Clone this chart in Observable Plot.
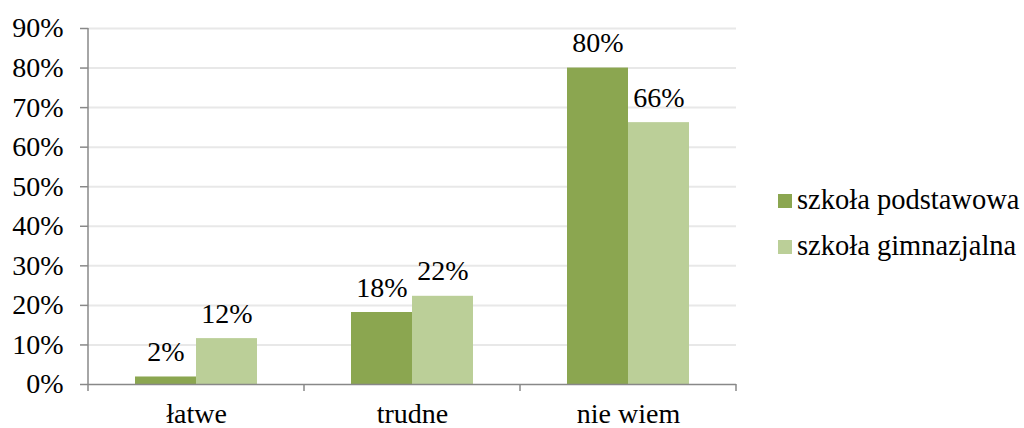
<!DOCTYPE html>
<html><head><meta charset="utf-8">
<script src="https://cdn.jsdelivr.net/npm/d3@7"></script>
<script src="https://cdn.jsdelivr.net/npm/@observablehq/plot@0.6"></script>
<style>
body{margin:0;background:#fff;font-family:"Liberation Serif",serif;}
#wrap{position:relative;width:1024px;height:428px;overflow:hidden;}
.item{position:absolute;left:778px;height:40px;display:flex;align-items:center;font-size:28.5px;color:#000;white-space:nowrap;}
.sw{width:14px;height:14px;margin-right:5px;margin-top:2px;}
</style></head><body><div id="wrap"></div>
<script>
const categories = ["łatwe", "trudne", "nie wiem"];
const series = ["szkoła podstawowa", "szkoła gimnazjalna"];
const podstawowa = [1.9, 18.2, 80.0];
const gimnazjalna = [11.6, 22.3, 66.2];
const podstawowaLabels = ["2%", "18%", "80%"];
const gimnazjalnaLabels = ["12%", "22%", "66%"];
const colors = ["#8ba650", "#bbcf98"];
const yTicks = [0, 10, 20, 30, 40, 50, 60, 70, 80, 90];

const data = [];
categories.forEach((c, i) => {
  data.push({category: c, series: series[0], value: podstawowa[i], label: podstawowaLabels[i]});
  data.push({category: c, series: series[1], value: gimnazjalna[i], label: gimnazjalnaLabels[i]});
});

const chart = Plot.plot({
  width: 1024, height: 428,
  marginLeft: 87, marginRight: 288, marginTop: 28, marginBottom: 44,
  style: {fontFamily: "'Liberation Serif', serif", fontSize: "28px", color: "#000", background: "#fff"},
  fx: {domain: categories, padding: 0, label: null, axis: null},
  x: {domain: series, paddingInner: 0, paddingOuter: 0.742, axis: null},
  y: {domain: [0, 90], axis: null, label: null},
  color: {domain: series, range: colors},
  marks: [
    Plot.gridY(yTicks.slice(1), {stroke: "#e8e8e8", strokeOpacity: 1, strokeWidth: 2}),
    Plot.barY(data, {fx: "category", x: "series", y: "value", fill: "series"}),
    Plot.text(data, {fx: "category", x: "series", y: "value", text: "label", dy: -16, lineAnchor: "bottom", fontSize: 28, fill: "#000"}),
    Plot.ruleY([0], {stroke: "#888", strokeWidth: 1.5}),
    Plot.axisY(yTicks, {tickFormat: d => d + "%", tickSize: 8, tickPadding: 17, stroke: "#888", strokeWidth: 1.5, fontSize: 28, fill: "#000", label: null}),
    Plot.axisFx({anchor: "bottom", tickSize: 0, tickPadding: 19, fontSize: 28, fill: "#000", label: null})
  ]
});

document.getElementById("wrap").appendChild(chart);

// axis line and category separator ticks, from the plot's own scales
const fx = chart.scale("fx");
const y = chart.scale("y");
const svg = d3.select(chart);
const y0 = y.apply(0), yTop = y.apply(90);
const bw = fx.bandwidth;
const bounds = [];
categories.forEach((c, i) => { const s = fx.apply(c); if (i === 0) bounds.push(s); bounds.push(s + bw); });
const g = svg.append("g").attr("stroke", "#888").attr("stroke-width", 1.5);
g.append("line").attr("x1", bounds[0]).attr("x2", bounds[0]).attr("y1", yTop).attr("y2", y0 + 7);
bounds.slice(1).forEach(b => g.append("line").attr("x1", b).attr("x2", b).attr("y1", y0).attr("y2", y0 + 7));

// legend
const wrap = document.getElementById("wrap");
const legendCenters = [200, 246];
series.forEach((s, i) => {
  const it = document.createElement("div");
  it.className = "item";
  it.style.top = (legendCenters[i] - 20) + "px";
  it.innerHTML = `<span class="sw" style="background:${colors[i]}"></span><span>${s}</span>`;
  wrap.appendChild(it);
});
</script></body></html>
